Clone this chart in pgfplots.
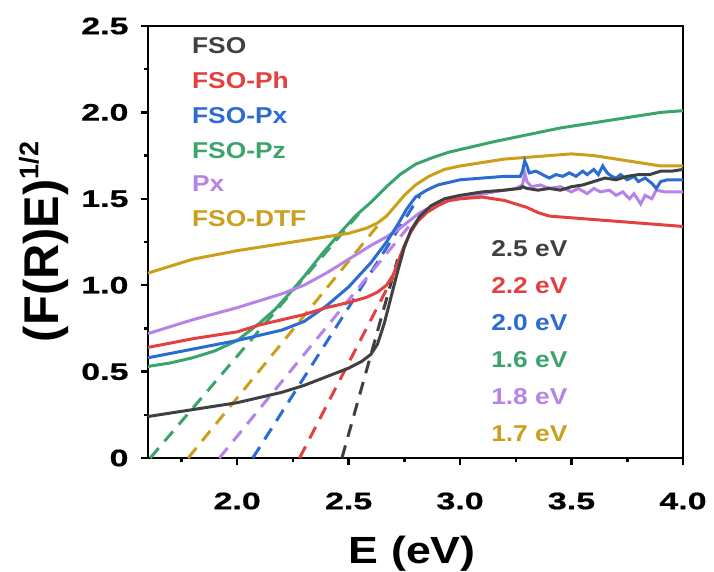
\documentclass[border=0pt]{standalone}
\usepackage{pgfplots}
\pgfplotsset{compat=1.18}
\usepackage{fontspec}
\setmainfont{Liberation Sans}
\newfontfamily\lblfont{Liberation Sans}[FakeStretch=1.15]
\newfontfamily\tickfont{Liberation Sans}[FakeStretch=1.42, FakeBold=0.6]
\newfontfamily\axfont{Liberation Sans}[FakeStretch=1.18]
\definecolor{cgray}{HTML}{404040}
\definecolor{cred}{HTML}{E3403F}
\definecolor{cblue}{HTML}{2B6BD2}
\definecolor{cgreen}{HTML}{3BA46C}
\definecolor{cpurple}{HTML}{B683E6}
\definecolor{cgold}{HTML}{CC9F1A}
\begin{document}
\begin{tikzpicture}
\begin{axis}[
  scale only axis, width=535bp, height=432bp,
  xmin=1.6, xmax=4.0, ymin=0, ymax=2.5,
  axis line style={line width=2.8bp},
  xtick={2.0,2.5,3.0,3.5,4.0}, xticklabels={2.0,2.5,3.0,3.5,4.0},
  ytick={0,0.5,1.0,1.5,2.0,2.5}, yticklabels={0,0.5,1.0,1.5,2.0,2.5},
  minor xtick={1.75,2.25,2.75,3.25,3.75},
  minor ytick={0.25,0.75,1.25,1.75,2.25},
  xtick pos=bottom, ytick pos=left,
  tick align=outside,
  major tick length=7bp, minor tick length=4bp,
  every tick/.style={black, line width=2.5bp},
  ticklabel style={font=\tickfont\bfseries\fontsize{24}{24}\selectfont},
  xticklabel style={yshift=-24bp},
  yticklabel style={xshift=-9bp},
  xlabel={E (eV)},
  ylabel={(F(R)E)\raisebox{0.42em}{\fontsize{27}{27}\selectfont 1/2}},
  xlabel style={font=\axfont\bfseries\fontsize{38}{38}\selectfont,
    at={(axis description cs:0.494,-0.2431)}, anchor=base},
  ylabel style={font=\bfseries\fontsize{49}{49}\selectfont,
    at={(axis description cs:-0.1664,0.5)}, anchor=base},
  every axis plot/.append style={line width=3bp},
  clip=true,
]
\coordinate (o) at (rel axis cs:0,0);
% dashed tangents
\addplot[cgray, dash pattern=on 13bp off 9bp] coordinates {(2.47,0) (2.72,1.15)};
\addplot[cred, dash pattern=on 13bp off 9bp] coordinates {(2.28,0) (2.70,1.05)};
\addplot[cblue, dash pattern=on 13bp off 9bp] coordinates {(2.07,0) (2.82,1.52)};
\addplot[cpurple, dash pattern=on 13bp off 9bp] coordinates {(1.92,0) (2.77,1.34)};
\addplot[cgold, dash pattern=on 13bp off 9bp] coordinates {(1.78,0) (2.64,1.36)};
\addplot[cgreen, dash pattern=on 13bp off 9bp] coordinates {(1.61,0) (2.55,1.42)};
% FSO-Pz
\addplot[cgreen] coordinates {(1.60,0.53) (1.70,0.55) (1.80,0.58) (1.90,0.62) (2.00,0.68) (2.10,0.78) (2.17,0.86) (2.24,0.96) (2.30,1.05) (2.38,1.18) (2.46,1.30) (2.53,1.40) (2.60,1.48) (2.67,1.57) (2.73,1.64) (2.80,1.70) (2.88,1.74) (2.95,1.77) (3.05,1.80) (3.15,1.83) (3.30,1.87) (3.45,1.91) (3.60,1.94) (3.75,1.97) (3.90,2.00) (4.00,2.01)};
% FSO-DTF
\addplot[cgold] coordinates {(1.60,1.07) (1.80,1.15) (2.00,1.20) (2.20,1.24) (2.40,1.28) (2.50,1.30) (2.58,1.33) (2.63,1.36) (2.67,1.40) (2.71,1.46) (2.75,1.52) (2.80,1.58) (2.86,1.63) (2.93,1.67) (3.00,1.69) (3.10,1.71) (3.20,1.73) (3.30,1.74) (3.40,1.75) (3.50,1.76) (3.60,1.75) (3.70,1.73) (3.80,1.71) (3.90,1.69) (4.00,1.69)};
% Px
\addplot[cpurple] coordinates {(1.60,0.72) (1.80,0.80) (2.00,0.87) (2.10,0.91) (2.20,0.95) (2.30,1.00) (2.40,1.07) (2.50,1.15) (2.60,1.23) (2.67,1.28) (2.72,1.32) (2.77,1.37) (2.82,1.42) (2.88,1.46) (2.95,1.49) (3.03,1.51) (3.15,1.54) (3.25,1.56) (3.28,1.58) (3.29,1.65) (3.30,1.60) (3.32,1.57) (3.36,1.58) (3.40,1.56) (3.45,1.57) (3.50,1.54) (3.53,1.56) (3.57,1.53) (3.60,1.56) (3.63,1.54) (3.67,1.55) (3.70,1.52) (3.73,1.54) (3.76,1.50) (3.78,1.53) (3.81,1.47) (3.83,1.52) (3.86,1.50) (3.88,1.55) (3.92,1.54) (3.96,1.54) (4.00,1.54)};
% FSO-Px
\addplot[cblue] coordinates {(1.60,0.58) (1.80,0.63) (2.00,0.68) (2.10,0.71) (2.20,0.74) (2.30,0.79) (2.40,0.88) (2.50,0.99) (2.60,1.13) (2.67,1.25) (2.72,1.35) (2.76,1.44) (2.80,1.51) (2.85,1.55) (2.90,1.58) (3.00,1.61) (3.10,1.62) (3.20,1.63) (3.27,1.63) (3.28,1.66) (3.29,1.72) (3.30,1.69) (3.31,1.65) (3.34,1.66) (3.37,1.64) (3.40,1.62) (3.43,1.64) (3.46,1.63) (3.49,1.65) (3.52,1.63) (3.55,1.66) (3.57,1.64) (3.60,1.67) (3.62,1.64) (3.64,1.69) (3.66,1.65) (3.68,1.63) (3.70,1.62) (3.72,1.64) (3.75,1.61) (3.78,1.63) (3.80,1.60) (3.83,1.62) (3.86,1.59) (3.88,1.56) (3.90,1.60) (3.93,1.61) (3.96,1.61) (4.00,1.61)};
% FSO-Ph
\addplot[cred] coordinates {(1.60,0.64) (1.80,0.69) (2.00,0.73) (2.10,0.77) (2.20,0.80) (2.30,0.83) (2.40,0.87) (2.50,0.90) (2.58,0.93) (2.63,0.96) (2.67,1.00) (2.70,1.06) (2.72,1.13) (2.75,1.23) (2.78,1.31) (2.81,1.37) (2.85,1.42) (2.90,1.46) (2.95,1.49) (3.00,1.50) (3.10,1.51) (3.20,1.49) (3.30,1.45) (3.35,1.42) (3.40,1.40) (3.50,1.39) (3.60,1.38) (3.70,1.37) (3.80,1.36) (3.90,1.35) (4.00,1.34)};
% FSO
\addplot[cgray] coordinates {(1.60,0.24) (1.80,0.28) (2.00,0.32) (2.20,0.38) (2.30,0.42) (2.40,0.47) (2.50,0.52) (2.56,0.56) (2.60,0.60) (2.63,0.66) (2.66,0.78) (2.69,0.93) (2.72,1.08) (2.75,1.22) (2.78,1.32) (2.82,1.40) (2.87,1.46) (2.93,1.50) (3.00,1.52) (3.10,1.54) (3.20,1.55) (3.27,1.56) (3.28,1.57) (3.30,1.56) (3.35,1.55) (3.40,1.56) (3.45,1.55) (3.50,1.57) (3.55,1.58) (3.60,1.60) (3.65,1.62) (3.70,1.61) (3.75,1.63) (3.80,1.64) (3.85,1.64) (3.90,1.66) (3.95,1.66) (4.00,1.67)};
% labels
\begin{scope}[every node/.style={anchor=west, inner sep=0pt, font=\lblfont\bfseries\fontsize{23}{23}\selectfont}]
\node[text=cgray] at (axis cs:1.797,2.387) {FSO};
\node[text=cred] at (axis cs:1.797,2.187) {FSO-Ph};
\node[text=cblue] at (axis cs:1.797,1.984) {FSO-Px};
\node[text=cgreen] at (axis cs:1.797,1.781) {FSO-Pz};
\node[text=cpurple] at (axis cs:1.797,1.589) {Px};
\node[text=cgold] at (axis cs:1.797,1.386) {FSO-DTF};
\node[text=cgray] at (axis cs:3.139,1.212) {2.5 eV};
\node[text=cred] at (axis cs:3.139,0.998) {2.2 eV};
\node[text=cblue] at (axis cs:3.139,0.783) {2.0 eV};
\node[text=cgreen] at (axis cs:3.139,0.568) {1.6 eV};
\node[text=cpurple] at (axis cs:3.139,0.354) {1.8 eV};
\node[text=cgold] at (axis cs:3.139,0.139) {1.7 eV};
\end{scope}
\end{axis}
\pgfresetboundingbox
\path (o) ++(-148bp,-114bp) rectangle ++(714bp,572bp);
\end{tikzpicture}
\end{document}
